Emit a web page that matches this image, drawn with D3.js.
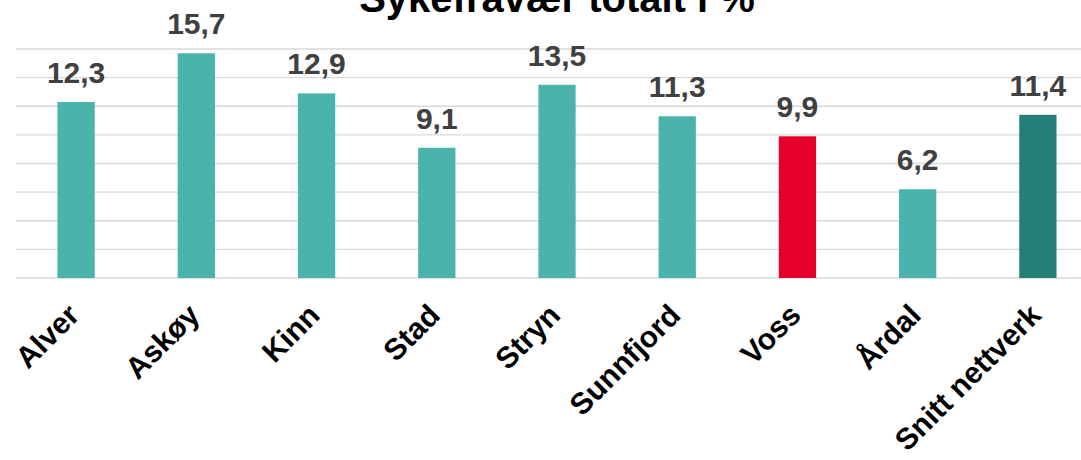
<!DOCTYPE html>
<html>
<head>
<meta charset="utf-8">
<script src="https://cdn.jsdelivr.net/npm/d3@7"></script>
<style>
  html, body { margin: 0; padding: 0; background: #fff; }
  svg { display: block; }
</style>
</head>
<body>
<svg id="chart" width="1081" height="460"></svg>
<script>
// Sykefravær per kommune, prosent
const categories = ["Alver", "Askøy", "Kinn", "Stad", "Stryn", "Sunnfjord", "Voss", "Årdal", "Snitt nettverk"];
const values = [12.3, 15.7, 12.9, 9.1, 13.5, 11.3, 9.9, 6.2, 11.4];
const barColors = ["#4AB3AB", "#4AB3AB", "#4AB3AB", "#4AB3AB", "#4AB3AB", "#4AB3AB", "#E4002B", "#4AB3AB", "#257F77"];
const gridTicks = [0, 2, 4, 6, 8, 10, 12, 14, 16];
const title = "Sykefravær totalt i %";

const svg = d3.select("#chart");
const W = 1081;

const x = d3.scaleBand()
  .domain(categories)
  .range([16, 1098])
  .paddingInner(0.69)
  .paddingOuter(0.345);

const y = d3.scaleLinear()
  .domain([0, 16])
  .range([278, 49]);

const font = "'Liberation Sans', Arial, Helvetica, sans-serif";

// horizontal gridlines
svg.append("g")
  .selectAll("line")
  .data(gridTicks)
  .join("line")
  .attr("x1", 16)
  .attr("x2", W)
  .attr("y1", d => y(d))
  .attr("y2", d => y(d))
  .attr("stroke", "#d9d9d9")
  .attr("stroke-width", 1.4);

// bars
svg.append("g")
  .selectAll("rect")
  .data(categories)
  .join("rect")
  .attr("x", d => x(d))
  .attr("width", x.bandwidth())
  .attr("y", (d, i) => y(values[i]))
  .attr("height", (d, i) => y(0) - y(values[i]))
  .attr("fill", (d, i) => barColors[i]);

// value labels
svg.append("g")
  .selectAll("text")
  .data(categories)
  .join("text")
  .attr("x", d => x(d) + x.bandwidth() / 2)
  .attr("y", (d, i) => y(values[i]) - 19)
  .attr("text-anchor", "middle")
  .attr("font-family", font)
  .attr("font-weight", "bold")
  .attr("font-size", 30)
  .attr("fill", "#404040")
  .text((d, i) => d3.format(".1f")(values[i]).replace(".", ","));

// category labels, rotated
svg.append("g")
  .selectAll("text")
  .data(categories)
  .join("text")
  .attr("transform", d => `translate(${x(d) + x.bandwidth() / 2 + 5},${317}) rotate(-45)`)
  .attr("text-anchor", "end")
  .attr("font-family", font)
  .attr("font-weight", "bold")
  .attr("font-size", 30)
  .attr("fill", "#000")
  .text(d => d);

// title
svg.append("text")
  .attr("x", 557)
  .attr("y", 12)
  .attr("text-anchor", "middle")
  .attr("font-family", font)
  .attr("font-weight", "bold")
  .attr("font-size", 40)
  .attr("fill", "#000")
  .text(title);
</script>
</body>
</html>
